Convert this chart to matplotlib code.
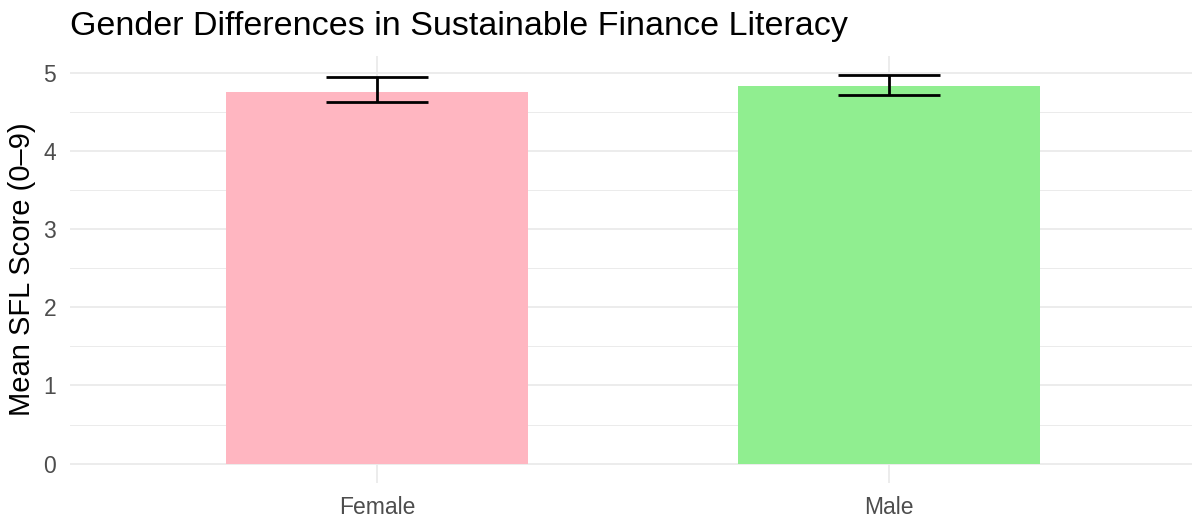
import matplotlib
matplotlib.use("Agg")
import matplotlib.pyplot as plt
import numpy as np

categories = ["Female", "Male"]
means = [4.756, 4.828]
err_lower = [4.628, 4.713]
err_upper = [4.949, 4.969]
colors = ["#FFB6C1", "#90EE90"]
yticks = [0, 1, 2, 3, 4, 5]

plt.rcParams['font.family'] = ['Liberation Sans', 'DejaVu Sans']

fig = plt.figure(figsize=(11.92, 5.22), dpi=100)
ax = fig.add_axes([70/1192, 1 - 483/522, (1196 - 70)/1192, (483 - 56)/522])

x = np.arange(1, len(categories) + 1)
ax.bar(x, means, width=0.59, color=colors, zorder=2)
yerr = np.array([np.array(means) - np.array(err_lower), np.array(err_upper) - np.array(means)])
ax.errorbar(x, means, yerr=yerr, fmt='none', ecolor='black', elinewidth=2,
            capsize=36.4, capthick=2, zorder=3)

ax.set_xlim(0.4, 2.6)
top = max(err_upper)
ax.set_ylim(-0.05 * top, top * 1.05)
ax.set_xticks(x)
ax.set_xticklabels(categories)
ax.set_yticks(yticks)
ax.set_yticks(np.arange(0.5, 5.0, 1.0), minor=True)

ax.grid(True, which='major', color='#EBEBEB', linewidth=1.3, zorder=0)
ax.grid(True, which='minor', axis='y', color='#EBEBEB', linewidth=0.7, zorder=0)
ax.set_axisbelow(True)
for s in ax.spines.values():
    s.set_visible(False)
ax.tick_params(axis='both', which='both', length=0, labelsize=16.5, labelcolor='#4D4D4D')
ax.tick_params(axis='x', pad=9)
ax.tick_params(axis='y', pad=10)

ax.set_ylabel("Mean SFL Score (0–9)", fontsize=21, color='black', labelpad=5)
fig.text(70/1192, 1 - 27/522, "Gender Differences in Sustainable Finance Literacy",
         fontsize=24.5, color='black', ha='left', va='center')

fig.savefig("out.png", dpi=100)
